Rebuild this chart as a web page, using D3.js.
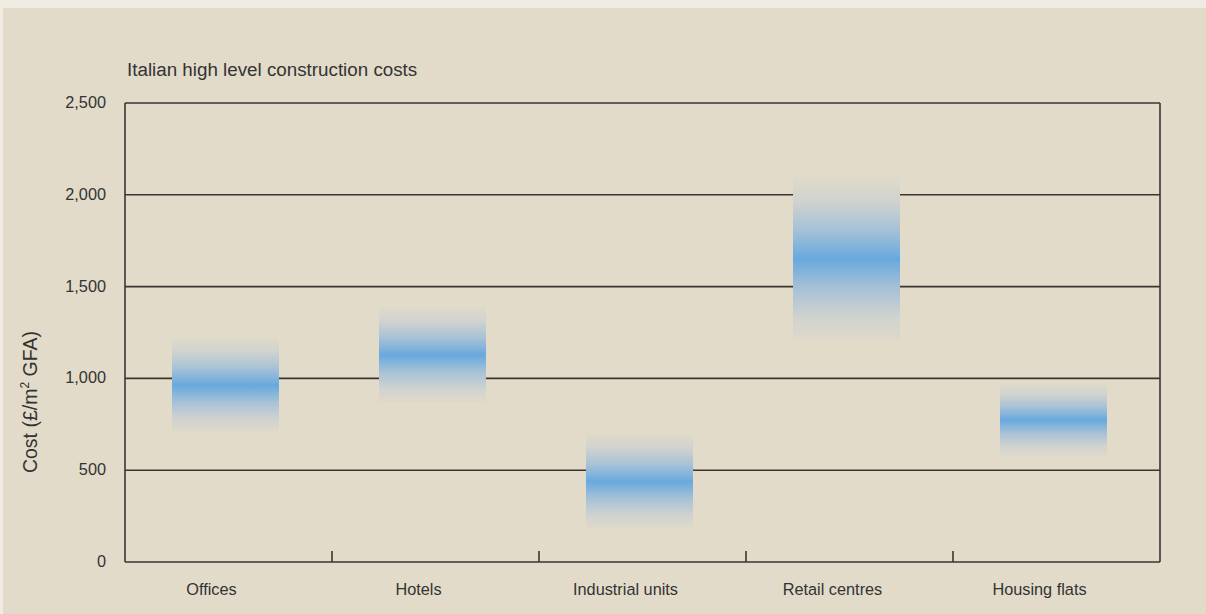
<!DOCTYPE html>
<html lang="en">
<head>
  <meta charset="UTF-8">
  <title>Italian high level construction costs</title>
  <style>
    body { margin: 0; background: #efebe2; }
    svg { display: block; }
    text { font-family: "Liberation Sans", Arial, sans-serif; fill: #333; }
  </style>
</head>
<body>
  <svg id="svg" width="1206" height="614"></svg>

  <script src="https://d3js.org/d3.v7.min.js"></script>
  <script>
    // chart data
    const categories = ['Offices', 'Hotels', 'Industrial units', 'Retail centres', 'Housing flats']
    const lowCost = [700, 865, 175, 1195, 570]
    const highCost = [1225, 1390, 700, 2105, 975]
    const yTicks = [0, 500, 1000, 1500, 2000, 2500]

    const data = categories.map((c, i) => ({ name: c, low: lowCost[i], high: highCost[i] }))

    const margin = { top: 103, right: 46, bottom: 52, left: 125 }
    const width = 1206 - margin.left - margin.right
    const height = 614 - margin.top - margin.bottom

    const svg = d3.select('#svg')

    // background panel
    svg.append('rect')
      .attr('x', 3).attr('y', 8)
      .attr('width', 1203).attr('height', 606)
      .attr('fill', '#e2dbc9')

    // vertical fade for the range bars
    const grad = svg.append('defs').append('linearGradient')
      .attr('id', 'barGrad')
      .attr('x1', 0).attr('y1', 0).attr('x2', 0).attr('y2', 1)
    const stops = [
      [0, '#e0dac9'], [0.15, '#d0d3cf'], [0.32, '#a8c2d6'],
      [0.5, '#68a9de'], [0.68, '#a8c2d6'], [0.85, '#d0d3cf'], [1, '#e0dac9']
    ]
    stops.forEach(s => grad.append('stop').attr('offset', s[0]).attr('stop-color', s[1]))

    const xscale = d3.scaleBand()
      .domain(categories)
      .range([margin.left, margin.left + width])

    const yscale = d3.scaleLinear()
      .domain([0, 2500])
      .range([margin.top + height, margin.top])

    // gridlines
    svg.append('g')
      .selectAll('line')
      .data(yTicks)
      .enter()
      .append('line')
      .attr('x1', margin.left)
      .attr('x2', margin.left + width)
      .attr('y1', d => yscale(d))
      .attr('y2', d => yscale(d))
      .attr('stroke', '#3a3533')
      .attr('stroke-width', 1.6)

    // plot frame sides
    svg.append('line')
      .attr('x1', margin.left).attr('x2', margin.left)
      .attr('y1', margin.top).attr('y2', margin.top + height)
      .attr('stroke', '#3a3533').attr('stroke-width', 1.6)
    svg.append('line')
      .attr('x1', margin.left + width).attr('x2', margin.left + width)
      .attr('y1', margin.top).attr('y2', margin.top + height)
      .attr('stroke', '#3a3533').attr('stroke-width', 1.6)

    // floating range bars
    const barWidth = 107
    svg.append('g')
      .selectAll('rect')
      .data(data)
      .enter()
      .append('rect')
      .attr('x', d => xscale(d.name) + xscale.bandwidth() / 2 - barWidth / 2 - 3)
      .attr('y', d => yscale(d.high))
      .attr('width', barWidth)
      .attr('height', d => yscale(d.low) - yscale(d.high))
      .attr('fill', 'url(#barGrad)')

    // category separators on the x axis
    svg.append('g')
      .selectAll('line')
      .data(categories.slice(1))
      .enter()
      .append('line')
      .attr('x1', d => xscale(d)).attr('x2', d => xscale(d))
      .attr('y1', margin.top + height).attr('y2', margin.top + height - 11)
      .attr('stroke', '#3a3533').attr('stroke-width', 1.6)

    // x labels
    svg.append('g')
      .selectAll('text')
      .data(categories)
      .enter()
      .append('text')
      .attr('x', d => xscale(d) + xscale.bandwidth() / 2 - 17)
      .attr('y', 595)
      .attr('text-anchor', 'middle')
      .attr('font-size', 16.3)
      .text(d => d)

    // y tick labels
    svg.append('g')
      .selectAll('text')
      .data(yTicks)
      .enter()
      .append('text')
      .attr('x', 106)
      .attr('y', d => yscale(d) + 5)
      .attr('text-anchor', 'end')
      .attr('font-size', 16.3)
      .text(d3.format(','))

    // y axis title
    const yTitle = svg.append('text')
      .attr('transform', 'translate(37, 402) rotate(-90)')
      .attr('text-anchor', 'middle')
      .attr('font-size', 19.5)
    yTitle.append('tspan').text('Cost (£/m')
    yTitle.append('tspan').attr('font-size', 12).attr('dy', -8).text('2')
    yTitle.append('tspan').attr('dy', 8).text(' GFA)')

    // chart title
    svg.append('text')
      .attr('x', 127)
      .attr('y', 76)
      .attr('font-size', 18.8)
      .text('Italian high level construction costs')
  </script>
</body>
</html>
